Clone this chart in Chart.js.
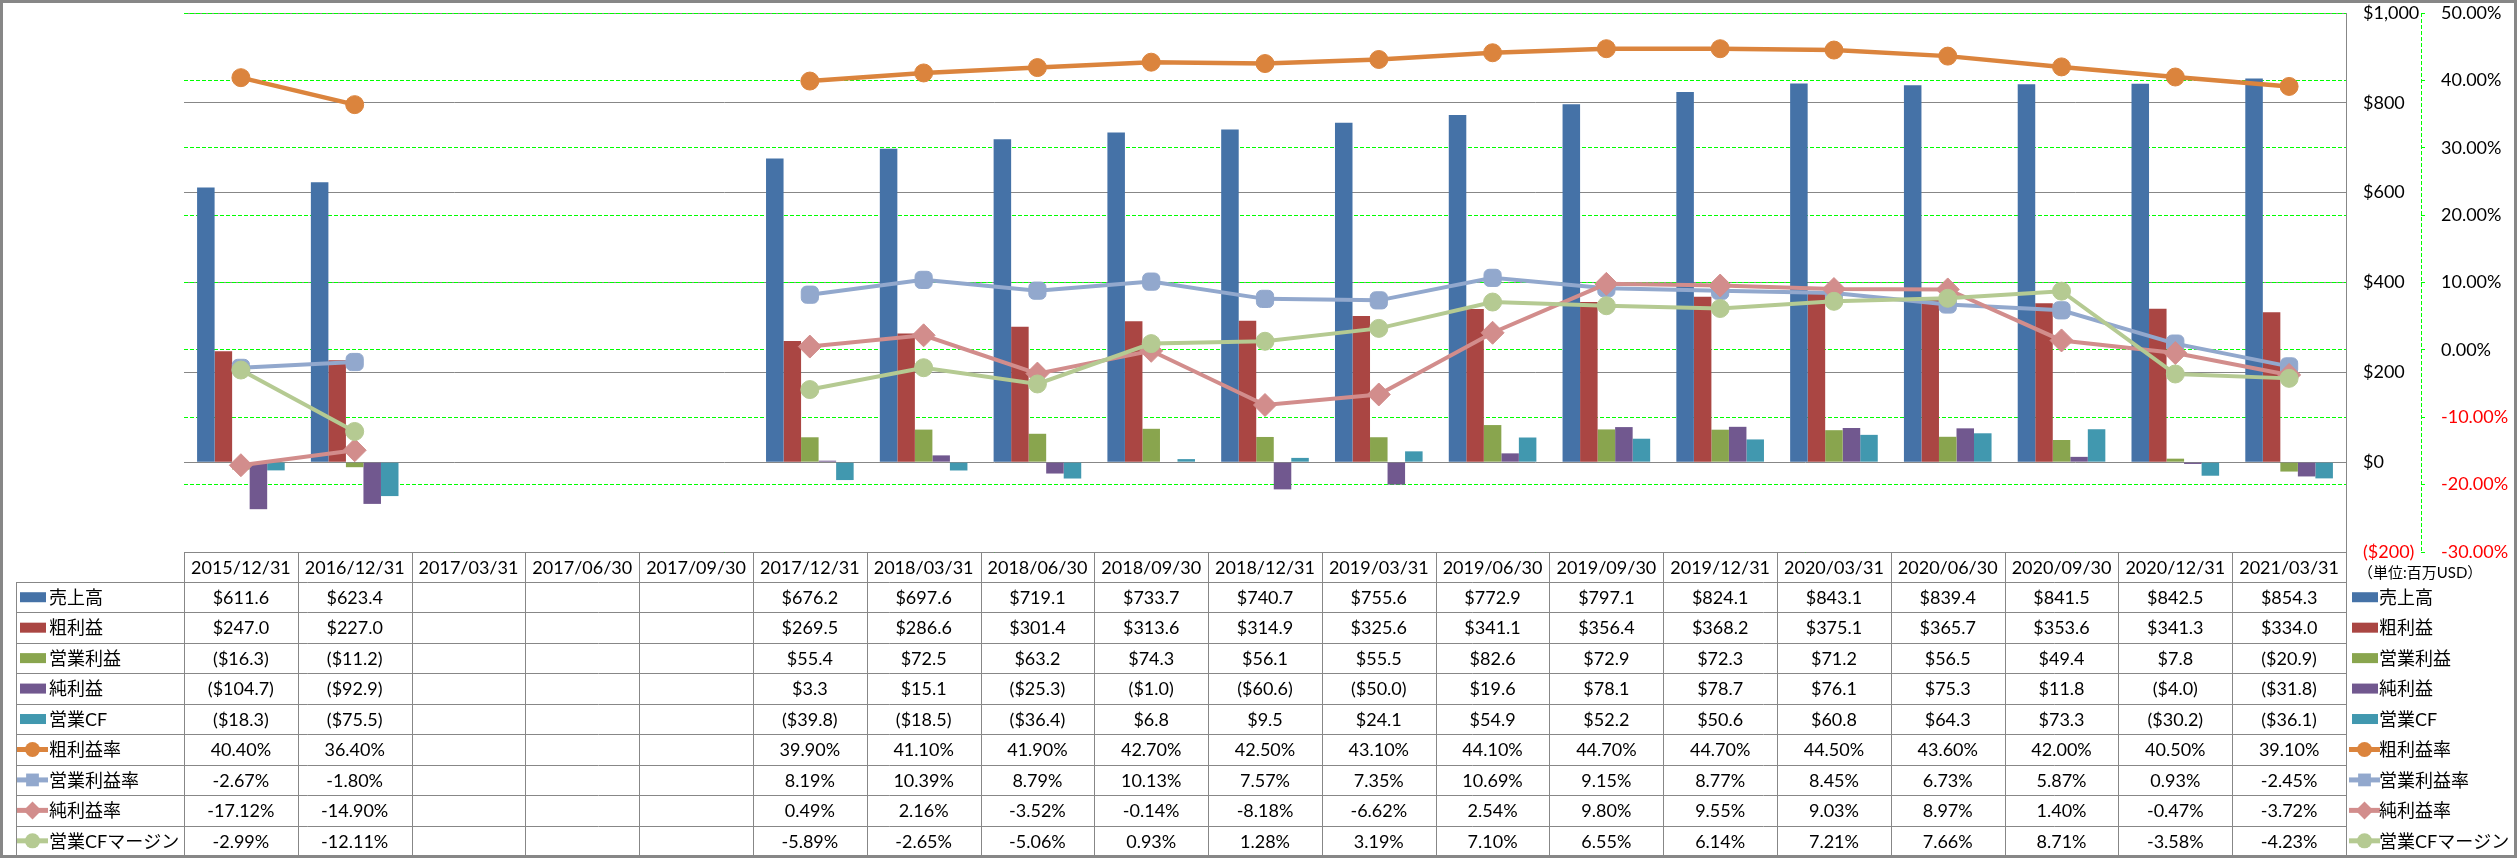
<!DOCTYPE html>
<html>
<head>
<meta charset="utf-8">
<script src="https://cdn.jsdelivr.net/npm/chart.js@4.4.0/dist/chart.umd.min.js"></script>
<style>
  body { margin: 0; background: #ffffff; }
  #contenedor { width: 2517px; height: 858px; }
</style>
</head>
<body>
<div id="contenedor"><canvas id="grafico" width="2517" height="858"></canvas></div>
<script>
// Datos (millones USD y %)
var fechas = ['2015/12/31', '2016/12/31', '2017/03/31', '2017/06/30', '2017/09/30', '2017/12/31',
    '2018/03/31', '2018/06/30', '2018/09/30', '2018/12/31', '2019/03/31', '2019/06/30',
    '2019/09/30', '2019/12/31', '2020/03/31', '2020/06/30', '2020/09/30', '2020/12/31', '2021/03/31'];
var ventas = [611.6, 623.4, null, null, null, 676.2, 697.6, 719.1, 733.7, 740.7, 755.6, 772.9, 797.1, 824.1, 843.1, 839.4, 841.5, 842.5, 854.3];
var beneficioBruto = [247.0, 227.0, null, null, null, 269.5, 286.6, 301.4, 313.6, 314.9, 325.6, 341.1, 356.4, 368.2, 375.1, 365.7, 353.6, 341.3, 334.0];
var beneficioOperativo = [-16.3, -11.2, null, null, null, 55.4, 72.5, 63.2, 74.3, 56.1, 55.5, 82.6, 72.9, 72.3, 71.2, 56.5, 49.4, 7.8, -20.9];
var beneficioNeto = [-104.7, -92.9, null, null, null, 3.3, 15.1, -25.3, -1.0, -60.6, -50.0, 19.6, 78.1, 78.7, 76.1, 75.3, 11.8, -4.0, -31.8];
var flujoOperativo = [-18.3, -75.5, null, null, null, -39.8, -18.5, -36.4, 6.8, 9.5, 24.1, 54.9, 52.2, 50.6, 60.8, 64.3, 73.3, -30.2, -36.1];
var margenBruto = [40.40, 36.40, null, null, null, 39.90, 41.10, 41.90, 42.70, 42.50, 43.10, 44.10, 44.70, 44.70, 44.50, 43.60, 42.00, 40.50, 39.10];
var margenOperativo = [-2.67, -1.80, null, null, null, 8.19, 10.39, 8.79, 10.13, 7.57, 7.35, 10.69, 9.15, 8.77, 8.45, 6.73, 5.87, 0.93, -2.45];
var margenNeto = [-17.12, -14.90, null, null, null, 0.49, 2.16, -3.52, -0.14, -8.18, -6.62, 2.54, 9.80, 9.55, 9.03, 8.97, 1.40, -0.47, -3.72];
var margenFlujo = [-2.99, -12.11, null, null, null, -5.89, -2.65, -5.06, 0.93, 1.28, 3.19, 7.10, 6.55, 6.14, 7.21, 7.66, 8.71, -3.58, -4.23];

var nombres = ['売上高', '粗利益', '営業利益', '純利益', '営業CF', '粗利益率', '営業利益率', '純利益率', '営業CFマージン'];
var unidad = '（単位:百万USD）';

var fuente = "Lato, 'Noto Sans CJK JP', sans-serif";
var gris = '#878787';
var verde = '#00FF00';

var filas = [
    { nombre: nombres[0], datos: ventas, color: '#4572A7', tipo: 'barra' },
    { nombre: nombres[1], datos: beneficioBruto, color: '#AA4643', tipo: 'barra' },
    { nombre: nombres[2], datos: beneficioOperativo, color: '#89A54E', tipo: 'barra' },
    { nombre: nombres[3], datos: beneficioNeto, color: '#71588F', tipo: 'barra' },
    { nombre: nombres[4], datos: flujoOperativo, color: '#4198AF', tipo: 'barra' },
    { nombre: nombres[5], datos: margenBruto, color: '#DB843D', tipo: 'linea', marcador: 'circle' },
    { nombre: nombres[6], datos: margenOperativo, color: '#92A8CD', tipo: 'linea', marcador: 'rectRounded' },
    { nombre: nombres[7], datos: margenNeto, color: '#D28D8C', tipo: 'linea', marcador: 'rectRot' },
    { nombre: nombres[8], datos: margenFlujo, color: '#B5CA92', tipo: 'linea', marcador: 'circle' }
];

function formatoDolar(v) {
    if (v === null) return '';
    var s = '$' + Math.abs(v).toFixed(1);
    return v < 0 ? '(' + s + ')' : s;
}

function formatoPorcentaje(v) {
    if (v === null) return '';
    return v.toFixed(2) + '%';
}

function colorTick(c) {
    return c.tick && c.tick.value < 0 ? '#FF0000' : '#000000';
}

// quitar el margen extra que Chart.js suma arriba y abajo por las etiquetas
function ajustarEje(ancho) {
    return function (scale) {
        scale.width = ancho;
        scale.paddingTop = 0;
        scale.paddingBottom = 0;
    };
}

function dibujarMarcador(ctx, estilo, x, y, r, color) {
    ctx.fillStyle = color;
    ctx.beginPath();
    if (estilo === 'rectRot') {
        ctx.moveTo(x - r, y);
        ctx.lineTo(x, y - r);
        ctx.lineTo(x + r, y);
        ctx.lineTo(x, y + r);
        ctx.closePath();
    } else if (estilo === 'rectRounded') {
        var m = r * 0.85;
        ctx.rect(x - m, y - m, 2 * m, 2 * m);
    } else {
        ctx.arc(x, y, r, 0, Math.PI * 2);
    }
    ctx.fill();
}

function dibujarClave(ctx, fila, x, y) {
    if (fila.tipo === 'barra') {
        ctx.fillStyle = fila.color;
        ctx.fillRect(x + 3, y - 5, 26, 10);
    } else {
        ctx.strokeStyle = fila.color;
        ctx.lineWidth = 5;
        ctx.beginPath();
        ctx.moveTo(x, y);
        ctx.lineTo(x + 31, y);
        ctx.stroke();
        dibujarMarcador(ctx, fila.marcador, x + 15.5, y, fila.marcador === 'rectRot' ? 9 : 7.5, fila.color);
    }
}

// Tabla de datos debajo del grafico, alineada con la escala x
var tablaPlugin = {
    id: 'tabla',
    afterDraw: function (chart) {
        var ctx = chart.ctx;
        var escalaX = chart.scales.x;
        var area = chart.chartArea;
        var n = fechas.length;
        var ancho = (area.right - area.left) / n;
        var arriba = area.bottom;
        var altoCab = 30;
        var altoFila = 30.45;
        var inicioFilas = arriba + altoCab;
        var abajo = inicioFilas + altoFila * filas.length;
        var izquierda = 16;

        ctx.save();

        // eje secundario con linea discontinua
        var ejeX = Math.round(chart.scales.y1.left) + 0.5;
        ctx.strokeStyle = verde;
        ctx.lineWidth = 1;
        ctx.setLineDash([4, 2]);
        ctx.beginPath();
        ctx.moveTo(ejeX, area.top);
        ctx.lineTo(ejeX, area.bottom);
        ctx.stroke();
        ctx.setLineDash([]);

        ctx.strokeStyle = gris;

        // lineas horizontales
        ctx.beginPath();
        ctx.moveTo(area.left, Math.round(arriba) + 0.5);
        ctx.lineTo(area.right, Math.round(arriba) + 0.5);
        for (var k = 0; k <= filas.length; k++) {
            var yy = Math.round(inicioFilas + altoFila * k) + 0.5;
            ctx.moveTo(izquierda, yy);
            ctx.lineTo(area.right, yy);
        }
        // lineas verticales
        ctx.moveTo(izquierda + 0.5, inicioFilas);
        ctx.lineTo(izquierda + 0.5, abajo);
        for (var i = 0; i <= n; i++) {
            var xx = Math.round(area.left + ancho * i) + 0.5;
            ctx.moveTo(xx, arriba);
            ctx.lineTo(xx, abajo);
        }
        ctx.stroke();

        // encabezados con fechas
        ctx.fillStyle = '#000000';
        ctx.textAlign = 'center';
        ctx.textBaseline = 'middle';
        ctx.font = '18px ' + fuente;
        for (var j = 0; j < n; j++) {
            var cx = escalaX.getPixelForValue(j);
            ctx.fillText(fechas[j], cx, arriba + altoCab / 2 + 1);
        }

        // filas de valores
        for (var f = 0; f < filas.length; f++) {
            var fila = filas[f];
            var cy = inicioFilas + altoFila * (f + 0.5) + 1;
            ctx.fillStyle = '#000000';
            ctx.textAlign = 'center';
            for (var c = 0; c < n; c++) {
                var texto = fila.tipo === 'barra' ? formatoDolar(fila.datos[c]) : formatoPorcentaje(fila.datos[c]);
                ctx.fillText(texto, escalaX.getPixelForValue(c), cy);
            }
            // clave izquierda
            dibujarClave(ctx, fila, 17, cy - 1);
            ctx.fillStyle = '#000000';
            ctx.textAlign = 'left';
            ctx.fillText(fila.nombre, 49, cy);
            // clave derecha
            dibujarClave(ctx, fila, area.right + 3, cy - 1);
            ctx.fillStyle = '#000000';
            ctx.fillText(fila.nombre, area.right + 33, cy);
        }

        // unidad
        ctx.font = '15px ' + fuente;
        ctx.textAlign = 'left';
        ctx.fillText(unidad, area.right + 12, arriba + 21);

        // borde exterior
        ctx.strokeStyle = gris;
        ctx.strokeRect(0.5, 0.5, chart.width - 1, chart.height - 1);
        ctx.restore();
    }
};

function crearGrafico() {
    var ctx = document.getElementById('grafico').getContext('2d');
    var datasets = [];

    for (var i = 0; i < filas.length; i++) {
        var fila = filas[i];
        if (fila.tipo === 'barra') {
            datasets.push({
                type: 'bar',
                label: fila.nombre,
                data: fila.datos,
                backgroundColor: fila.color,
                borderWidth: 0,
                yAxisID: 'y',
                categoryPercentage: 0.77,
                barPercentage: 1.0,
                order: 10
            });
        } else {
            var radio = 9;
            if (fila.marcador === 'rectRounded') radio = 10;
            if (fila.marcador === 'rectRot') radio = 11.5;
            datasets.push({
                type: 'line',
                label: fila.nombre,
                data: fila.datos,
                borderColor: fila.color,
                backgroundColor: fila.color,
                borderWidth: i === 5 ? 4.5 : 4,
                pointStyle: fila.marcador,
                pointRadius: radio,
                pointBackgroundColor: fila.color,
                pointBorderColor: fila.color,
                pointBorderWidth: 1,
                yAxisID: 'y1',
                spanGaps: false,
                order: 9 - i
            });
        }
    }

    new Chart(ctx, {
        type: 'bar',
        data: {
            labels: fechas,
            datasets: datasets
        },
        options: {
            responsive: false,
            animation: false,
            layout: {
                autoPadding: false,
                padding: { left: 184, top: 13, right: 0, bottom: 306 }
            },
            plugins: {
                legend: { display: false },
                tooltip: { enabled: false }
            },
            scales: {
                x: {
                    display: false,
                    offset: true
                },
                y: {
                    position: 'right',
                    weight: 0,
                    min: -200,
                    max: 1000,
                    ticks: {
                        stepSize: 200,
                        padding: 17,
                        font: { family: fuente, size: 18 },
                        color: colorTick,
                        callback: function (v) {
                            var s = '$' + Math.abs(v).toLocaleString('en-US');
                            return v < 0 ? '(' + s + ')' : s;
                        }
                    },
                    grid: { color: gris, lineWidth: 1, drawTicks: false },
                    border: { color: gris, width: 1 },
                    afterFit: ajustarEje(75)
                },
                y1: {
                    position: 'right',
                    weight: 1,
                    min: -30,
                    max: 50,
                    ticks: {
                        stepSize: 10,
                        padding: 16,
                        font: { family: fuente, size: 18 },
                        color: colorTick,
                        callback: function (v) { return v.toFixed(2) + '%'; }
                    },
                    grid: { color: verde, lineWidth: 1, drawTicks: true, tickLength: 4, tickColor: verde },
                    border: { display: false, dash: [4, 2] },
                    afterFit: ajustarEje(96)
                }
            }
        },
        plugins: [tablaPlugin]
    });
}

crearGrafico();
</script>
</body>
</html>
